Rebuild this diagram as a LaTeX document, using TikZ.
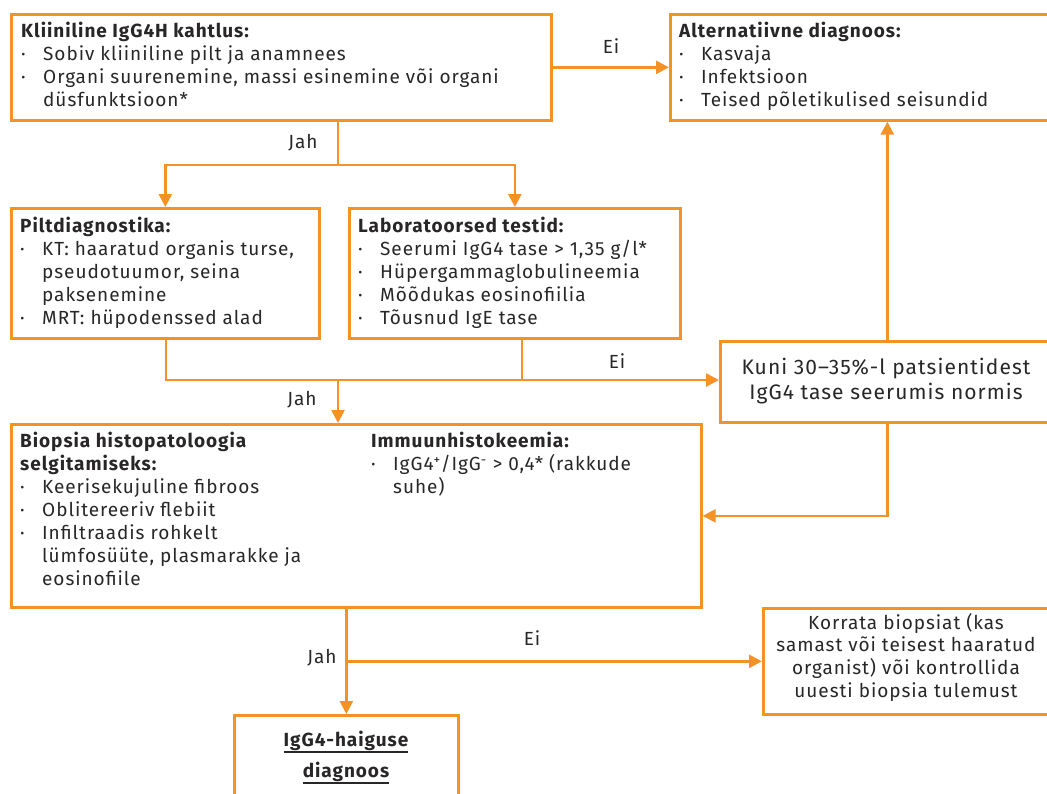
\documentclass[tikz,border=0pt]{standalone}
\usepackage{fontspec}
\setmainfont{Fira Sans}[LetterSpace=5]
\usetikzlibrary{arrows.meta}
\definecolor{org}{RGB}{245,146,38}
\definecolor{ink}{RGB}{40,38,38}
\newcommand\bu{\makebox[22pt][l]{·}}
\newcommand\ind{\hspace*{22pt}}
\newcommand\uln[1]{\setbox0\hbox{#1}\rlap{\rule[-6pt]{\wd0}{2.2pt}}\box0}
\begin{document}
\begin{tikzpicture}[x=1pt,y=-1pt,
  font=\fontsize{19}{23}\selectfont,
  box/.style={draw=org, line width=2.7pt, inner sep=0pt, outer sep=1.35pt, anchor=north west},
  txtn/.style={inner sep=0pt, text=ink, anchor=north west},
  ctxt/.style={inner sep=0pt, text=ink, anchor=north},
  conn/.style={draw=org, line width=2.6pt},
  arr/.style={conn, -{Triangle[length=13pt,width=13pt]}},
  lbl/.style={text=ink, inner sep=0pt, anchor=base}]
\useasboundingbox (0,0) rectangle (1047,793);
\clip (0,0) rectangle (1047,793);
% boxes
\node[box, minimum width=540pt, minimum height=106pt] (b1) at (10,13) {};
\node[box, minimum width=390pt, minimum height=106pt] (alt) at (669,13) {};
\node[box, minimum width=308pt, minimum height=130pt] (pilt) at (10,207) {};
\node[box, minimum width=331pt, minimum height=130pt] (lab) at (348,207) {};
\node[box, minimum width=334pt, minimum height=81pt] (kuni) at (719,340) {};
\node[box, minimum width=690pt, minimum height=183pt] (bio) at (10,423) {};
\node[box, minimum width=300pt, minimum height=106pt] (korr) at (762,607) {};
\node[box, minimum width=224pt, minimum height=120pt] (diag) at (233,714) {};
% texts
\node[txtn] (t1) at (21,21) {\begin{tabular}{@{}l@{}}\textbf{Kliiniline IgG4H kahtlus:}\\
\bu Sobiv kliiniline pilt ja anamnees\\
\bu Organi suurenemine, massi esinemine või organi\\
\ind düsfunktsioon*\end{tabular}};
\node[txtn] (t2) at (679,21) {\begin{tabular}{@{}l@{}}\textbf{Alternatiivne diagnoos:}\\
\bu Kasvaja\\
\bu Infektsioon\\
\bu Teised põletikulised seisundid\end{tabular}};
\node[txtn] (t3) at (20,216) {\begin{tabular}{@{}l@{}}\textbf{Piltdiagnostika:}\\
\bu KT: haaratud organis turse,\\
\ind pseudotuumor, seina\\
\ind paksenemine\\
\bu MRT: hüpodenssed alad\end{tabular}};
\node[txtn] (t4) at (358,216) {\begin{tabular}{@{}l@{}}\textbf{Laboratoorsed testid:}\\
\bu Seerumi IgG4 tase > 1,35 g/l*\\
\bu Hüpergammaglobulineemia\\
\bu Mõõdukas eosinofiilia\\
\bu Tõusnud IgE tase\end{tabular}};
\node[ctxt] (t5) at (886,357) {\fontsize{21}{25}\selectfont\begin{tabular}{@{}c@{}}Kuni 30–35\%-l patsientidest\\
IgG4 tase seerumis normis\end{tabular}};
\node[txtn] (t6) at (20,431) {\begin{tabular}{@{}l@{}}\textbf{Biopsia histopatoloogia}\\
\textbf{selgitamiseks:}\\
\bu Keerisekujuline fibroos\\
\bu Oblitereeriv flebiit\\
\bu Infiltraadis rohkelt\\
\ind lümfosüüte, plasmarakke ja\\
\ind eosinofiile\end{tabular}};
\node[txtn] (t7) at (371,431) {\begin{tabular}{@{}l@{}}\textbf{Immuunhistokeemia:}\\
\bu IgG4\textsuperscript{+}/IgG\textsuperscript{-} > 0,4* (rakkude\\
\ind suhe)\end{tabular}};
\node[ctxt] (t8) at (906,613) {\fontsize{19}{22.7}\selectfont\begin{tabular}{@{}c@{}}Korrata biopsiat (kas\\
samast või teisest haaratud\\
organist) või kontrollida\\
uuesti biopsia tulemust\end{tabular}};
\node[ctxt] (t9) at (346,725) {\fontsize{19}{31}\selectfont\bfseries\begin{tabular}{@{}c@{}}\uln{IgG4-haiguse}\\
\uln{diagnoos}\end{tabular}};
% connectors
\draw[arr] (b1) -- (alt);
\node[lbl] (ei1) at (611,53) {Ei};
\coordinate (j1) at (338,165);
\draw[conn] (j1 |- b1.south) -- (j1);
\draw[arr] (j1) -| (pilt.north);
\draw[arr] (j1) -| (lab.north);
\node[lbl] (jah1) at (303,148) {Jah};
\coordinate (m1) at (166,380);
\coordinate (m2) at (522,380);
\coordinate (j2) at (338,380);
\draw[conn] (m1 |- pilt.south) -- (m1) -- (m2);
\draw[conn] (m2 |- lab.south) -- (m2);
\draw[arr] (m2) -- (kuni.west |- m2);
\draw[arr] (j2) -- (j2 |- bio.north);
\node[lbl] (ei2) at (617,368) {Ei};
\node[lbl] (jah2) at (302,405) {Jah};
\draw[arr] (kuni.north) -- (kuni.north |- alt.south);
\draw[arr] (kuni.south) |- (bio.east);
\draw[arr] (diag.north |- bio.south) -- (diag.north);
\draw[arr] (diag.north |- korr.west) -- (korr.west);
\node[lbl] (jah3) at (322,663) {Jah};
\node[lbl] (ei3) at (532,645) {Ei};
\end{tikzpicture}
\end{document}
